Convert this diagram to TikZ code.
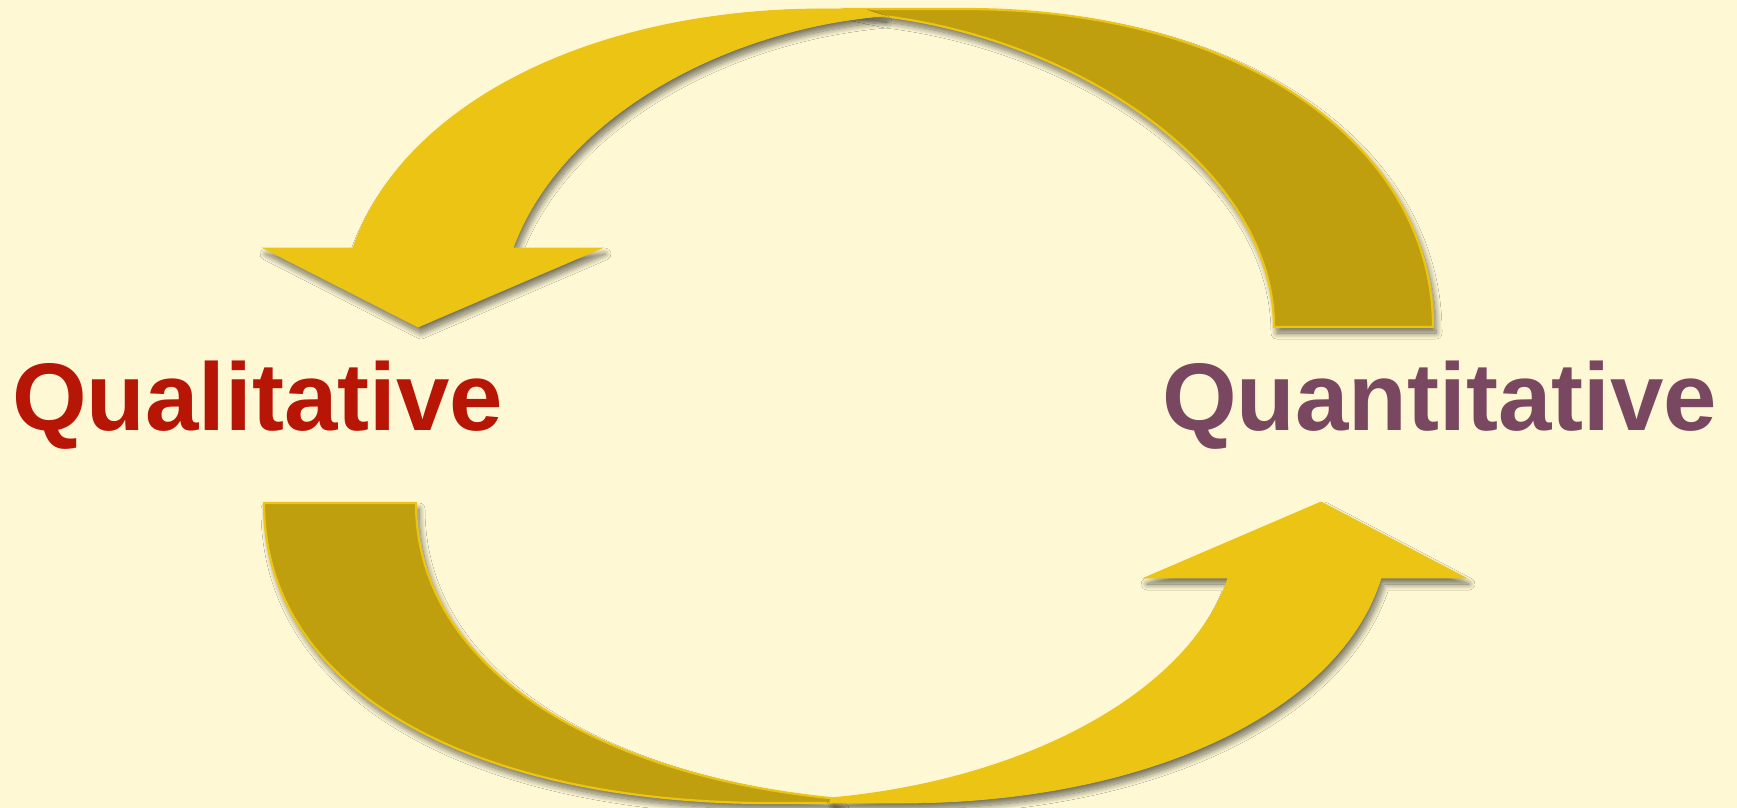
\documentclass[tikz,border=0pt]{standalone}
\usepackage{fontspec}
\setmainfont{Liberation Sans}
\usetikzlibrary{shadows.blur}
\definecolor{bgcream}{HTML}{FEF8D5}
\definecolor{arrowyellow}{HTML}{ECC413}
\definecolor{banddark}{HTML}{BF9F0D}
\definecolor{qualred}{HTML}{B71505}
\definecolor{quantpurple}{HTML}{7A4760}
\tikzset{
  softshadow/.style={blur shadow={shadow xshift=3pt, shadow yshift=-6pt, shadow blur steps=14, shadow blur radius=6pt, shadow opacity=55}},
  yellowarrow/.style={fill=arrowyellow, draw=arrowyellow, line width=0.8pt, line join=miter, softshadow},
  darkband/.style={fill=banddark, draw=arrowyellow, line width=2.2pt, line join=miter, softshadow},
  bigword/.style={anchor=base west, inner sep=0pt, font=\fontsize{96}{110}\selectfont\bfseries}
}
\begin{document}
\begin{tikzpicture}[x=1pt, y=-1pt]
\useasboundingbox (0,0) rectangle (1737,808);
\fill[bgcream] (0,0) rectangle (1737,808);

% top ribbon: dark back part
\path[darkband] (850,9) -- (964,9)
  .. controls (1250,9) and (1433,150) .. (1433,327)
  -- (1274,327)
  .. controls (1274,170) and (1080,40) .. (883,16) -- cycle;
% top ribbon: yellow arrow towards Qualitative
\path[yellowarrow] (353,248)
  .. controls (400,110) and (580,12) .. (814,9)
  -- (863,9) -- (883,16)
  .. controls (720,30) and (560,120) .. (513,248)
  -- (602,248) -- (418,327) -- (263,248) -- cycle;

% bottom ribbon: dark back part
\path[darkband] (264,503)
  .. controls (264,690) and (470,800) .. (760,803)
  -- (840,803) -- (830,798)
  .. controls (600,775) and (416,670) .. (416,503) -- cycle;
% bottom ribbon: yellow arrow towards Quantitative
\path[yellowarrow] (830,798)
  .. controls (1030,780) and (1190,690) .. (1228,578)
  -- (1144,578) -- (1321,502) -- (1466,578) -- (1381,578)
  .. controls (1340,710) and (1150,803) .. (900,803)
  -- (830,803) -- cycle;

\node[bigword, text=qualred] (qual) at (12,430) {Qualitative};
\node[bigword, text=quantpurple] (quant) at (1162,430) {Quantitative};
\end{tikzpicture}
\end{document}
